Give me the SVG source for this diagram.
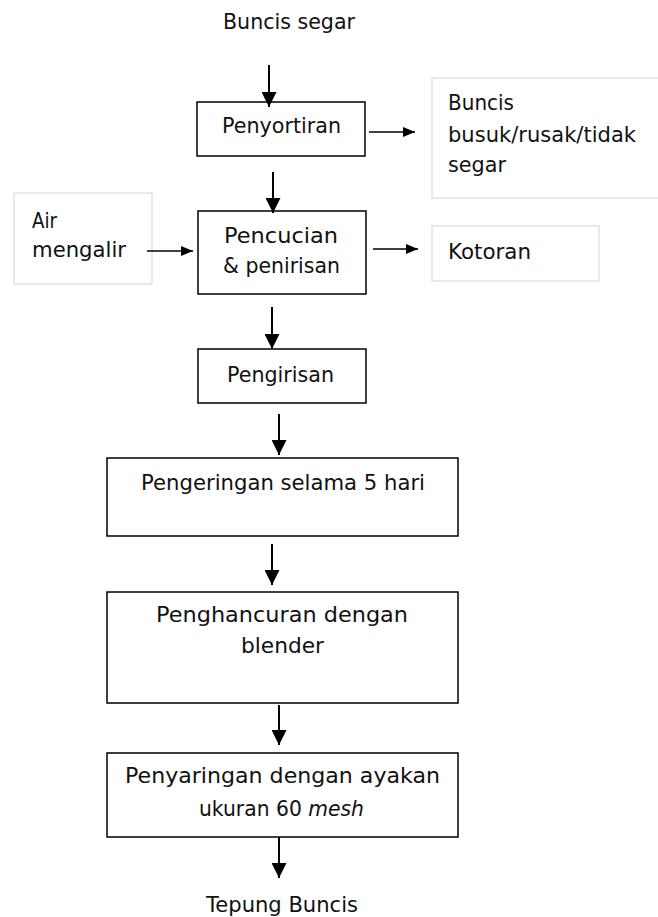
<svg xmlns="http://www.w3.org/2000/svg" width="658" height="917" viewBox="0 0 658 917">
<style>
  text { font-family: "DejaVu Sans", "Liberation Sans", sans-serif; font-size: 20.5px; fill: #111; }
  .c { text-anchor: middle; }
  .box { fill: #fff; stroke: #000; stroke-width: 1.5; }
  .side { fill: #fff; stroke: #d4d4d4; stroke-width: 1; }
  .v { stroke: #000; stroke-width: 2; fill: none; marker-end: url(#ah); }
  .h { stroke: #000; stroke-width: 1.3; fill: none; marker-end: url(#ahs); }
</style>
<defs>
  <marker id="ah" markerWidth="15" markerHeight="15" refX="15" refY="7.5" orient="auto" markerUnits="userSpaceOnUse">
    <path d="M0,0 L15,7.5 L0,15 z" fill="#000"/>
  </marker>
  <marker id="ahs" markerWidth="12" markerHeight="10" refX="12" refY="5" orient="auto" markerUnits="userSpaceOnUse">
    <path d="M0,0 L12,5 L0,10 z" fill="#000"/>
  </marker>
</defs>
<rect width="658" height="917" fill="#fff"/>

<g id="start">
  <text x="289" y="29" class="c" textLength="132" lengthAdjust="spacingAndGlyphs">Buncis segar</text>
</g>
<g id="penyortiran">
  <rect class="box" x="197" y="102" width="168" height="54"/>
  <text x="281.5" y="133" class="c" textLength="119" lengthAdjust="spacingAndGlyphs">Penyortiran</text>
</g>
<g id="buncis-busuk">
  <rect class="side" x="432" y="78" width="240" height="120"/>
  <text x="448" y="110" textLength="66" lengthAdjust="spacingAndGlyphs">Buncis</text>
  <text x="448" y="142" textLength="188" lengthAdjust="spacingAndGlyphs">busuk/rusak/tidak</text>
  <text x="448" y="172" textLength="58" lengthAdjust="spacingAndGlyphs">segar</text>
</g>
<g id="air">
  <rect class="side" x="14" y="193" width="138" height="91"/>
  <text x="32" y="228" textLength="25" lengthAdjust="spacingAndGlyphs">Air</text>
  <text x="32" y="257" textLength="94" lengthAdjust="spacingAndGlyphs">mengalir</text>
</g>
<g id="pencucian">
  <rect class="box" x="198" y="211" width="168" height="83"/>
  <text x="281" y="243" class="c" textLength="114" lengthAdjust="spacingAndGlyphs">Pencucian</text>
  <text x="281.5" y="273" class="c" textLength="117" lengthAdjust="spacingAndGlyphs">&amp; penirisan</text>
</g>
<g id="kotoran">
  <rect class="side" x="432" y="226" width="167" height="55"/>
  <text x="448" y="259" textLength="83" lengthAdjust="spacingAndGlyphs">Kotoran</text>
</g>
<g id="pengirisan">
  <rect class="box" x="198" y="349" width="168" height="54"/>
  <text x="280.5" y="382" class="c" textLength="107" lengthAdjust="spacingAndGlyphs">Pengirisan</text>
</g>
<g id="pengeringan">
  <rect class="box" x="107" y="458" width="351" height="78"/>
  <text x="283" y="490" class="c" textLength="284" lengthAdjust="spacingAndGlyphs">Pengeringan selama 5 hari</text>
</g>
<g id="penghancuran">
  <rect class="box" x="107" y="592" width="351" height="111"/>
  <text x="282" y="622" class="c" textLength="252" lengthAdjust="spacingAndGlyphs">Penghancuran dengan</text>
  <text x="282.5" y="653" class="c" textLength="83" lengthAdjust="spacingAndGlyphs">blender</text>
</g>
<g id="penyaringan">
  <rect class="box" x="107" y="753" width="351" height="84"/>
  <text x="282.5" y="783" class="c" textLength="315" lengthAdjust="spacingAndGlyphs">Penyaringan dengan ayakan</text>
  <text x="199" y="816" textLength="165" lengthAdjust="spacingAndGlyphs">ukuran 60 <tspan font-style="italic">mesh</tspan></text>
</g>
<g id="end">
  <text x="282" y="912" class="c" textLength="152" lengthAdjust="spacingAndGlyphs">Tepung Buncis</text>
</g>

<g id="connectors">
  <line class="v" x1="269" y1="65" x2="269" y2="107"/>
  <line class="h" x1="369" y1="132" x2="415" y2="132"/>
  <line class="v" x1="273" y1="172" x2="273" y2="213"/>
  <line class="h" x1="147" y1="251" x2="193" y2="251"/>
  <line class="h" x1="373" y1="249" x2="418" y2="249"/>
  <line class="v" x1="272" y1="307" x2="272" y2="349"/>
  <line class="v" x1="279" y1="414" x2="279" y2="455"/>
  <line class="v" x1="272" y1="544" x2="272" y2="585"/>
  <line class="v" x1="279" y1="705" x2="279" y2="745"/>
  <line class="v" x1="279" y1="837" x2="279" y2="878"/>
</g>
</svg>
